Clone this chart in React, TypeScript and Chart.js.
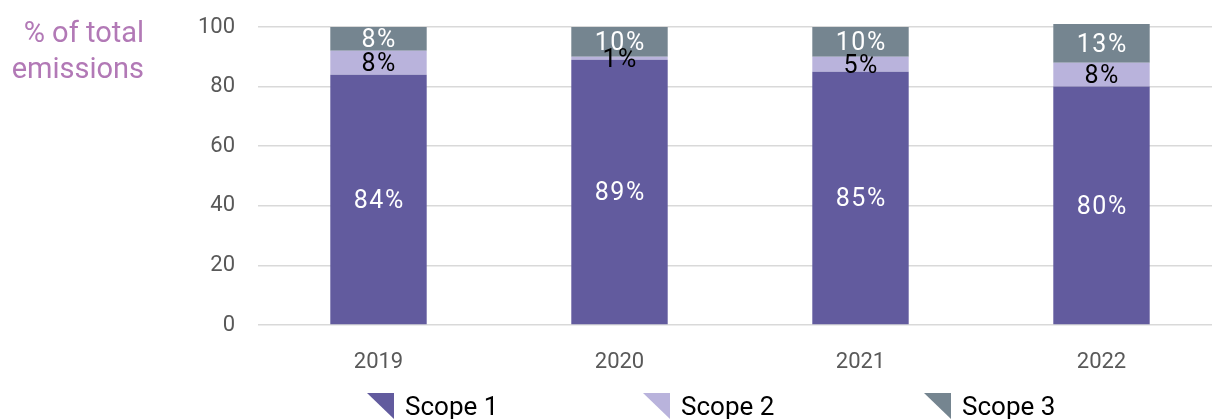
import React, { useEffect, useRef } from "react";
import { Chart, registerables } from "chart.js";

Chart.register(...registerables);

const categories = ["2019", "2020", "2021", "2022"];
const scope1 = [84, 89, 85, 80];
const scope2 = [8, 1, 5, 8];
const scope3 = [8, 10, 10, 13];
const seriesNames = ["Scope 1", "Scope 2", "Scope 3"];
const seriesColors = ["#625b9e", "#b9b3dc", "#758590"];
const labelColors = ["#ffffff", "#000000", "#ffffff"];
const yTicks = [0, 20, 40, 60, 80, 100];
const yTitle = ["% of total", "emissions"];

const FONT = "Roboto, 'Noto Sans', sans-serif";

const barLabels = {
  id: "barLabels",
  afterDatasetsDraw(chart: any) {
    const ctx = chart.ctx;
    ctx.save();
    ctx.font = `25px ${FONT}`;
    ctx.textAlign = "center";
    ctx.textBaseline = "middle";
    const sp = 1.5;
    try {
      ctx.letterSpacing = `${sp}px`;
    } catch (e) {}
    chart.data.datasets.forEach((ds: any, di: number) => {
      const meta = chart.getDatasetMeta(di);
      meta.data.forEach((bar: any, i: number) => {
        const v = ds.data[i];
        const y = (bar.y + bar.base) / 2;
        ctx.fillStyle = labelColors[di];
        ctx.fillText(`${v}%`, bar.x + sp / 2, y + 2);
      });
    });
    ctx.restore();
  },
};

export default function App() {
  const ref = useRef<HTMLCanvasElement>(null);
  useEffect(() => {
    document.body.style.margin = "0";
    const series = [scope1, scope2, scope3];
    const chart = new Chart(ref.current!, {
      type: "bar",
      data: {
        labels: categories,
        datasets: series.map((d, i) => ({
          label: seriesNames[i],
          data: d,
          backgroundColor: seriesColors[i],
          borderWidth: 0,
          barPercentage: 0.4,
          categoryPercentage: 1,
          clip: false as any,
        })),
      },
      options: {
        responsive: false,
        animation: false,
        layout: { padding: { top: 27, left: 0, right: 0, bottom: 0 } },
        plugins: { legend: { display: false }, tooltip: { enabled: false } },
        scales: {
          x: {
            stacked: true,
            grid: { display: false },
            border: { display: false },
            ticks: { color: "#595959", font: { family: FONT, size: 22 }, padding: 16 },
            afterFit: (s: any) => {
              s.height = 94;
              s.paddingLeft = 0;
              s.paddingRight = 0;
            },
          },
          y: {
            stacked: true,
            min: 0,
            max: 100,
            afterBuildTicks: (s: any) => {
              s.ticks = yTicks.map((v) => ({ value: v }));
            },
            grid: { color: "#d9d9d9", lineWidth: 1.5, drawTicks: false },
            border: { display: false },
            ticks: { color: "#595959", font: { family: FONT, size: 22 }, padding: 23 },
            afterFit: (s: any) => {
              s.width = 258;
              s.paddingTop = 0;
              s.paddingBottom = 0;
            },
          },
        },
      },
      plugins: [barLabels],
    });
    return () => chart.destroy();
  }, []);

  const legendX = [367, 643, 924];
  return (
    <div style={{ position: "relative", width: 1212, height: 419, overflow: "hidden", fontFamily: FONT }}>
      <canvas ref={ref} width={1222} height={419} style={{ position: "absolute", left: 0, top: 0 }} />
      <div
        style={{
          position: "absolute",
          right: 1212 - 144,
          top: 14,
          textAlign: "right",
          color: "#b279b6",
          fontSize: 29,
          lineHeight: "36px",
          whiteSpace: "nowrap",
        }}
      >
        {yTitle.map((t) => (
          <div key={t}>{t}</div>
        ))}
      </div>
      {seriesNames.map((n, i) => (
        <div
          key={n}
          style={{ position: "absolute", left: legendX[i], top: 392, display: "flex", alignItems: "center", whiteSpace: "nowrap" }}
        >
          <div
            style={{
              width: 27,
              height: 26,
              background: seriesColors[i],
              clipPath: "polygon(0 0, 100% 0, 100% 100%)",
              marginRight: 11,
            }}
          />
          <span style={{ fontSize: 26, color: "#000", lineHeight: "28px" }}>{n}</span>
        </div>
      ))}
    </div>
  );
}
